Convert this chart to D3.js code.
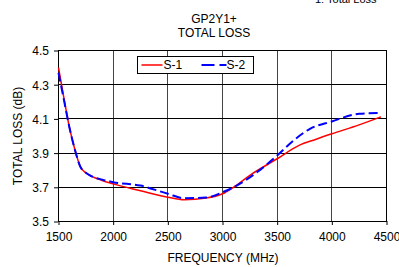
<!DOCTYPE html>
<html>
<head>
<meta charset="utf-8">
<script src="https://cdn.jsdelivr.net/npm/d3@7"></script>
<style>
  body { margin: 0; background: #fff; }
  svg { display: block; font-family: "Liberation Sans", Arial, sans-serif; }
</style>
</head>
<body>
<div id="chart"></div>
<script>
const freqS1 = [1500, 1550, 1600, 1650, 1700, 1750, 1800, 1900, 2000, 2250, 2500, 2650, 2850, 3000, 3100, 3250, 3500, 3700, 3850, 4000, 4250, 4450];
const valS1 = [4.40, 4.22, 4.05, 3.92, 3.82, 3.785, 3.765, 3.74, 3.72, 3.68, 3.642, 3.627, 3.637, 3.662, 3.70, 3.77, 3.867, 3.945, 3.98, 4.013, 4.065, 4.112];
const freqS2 = [1500, 1550, 1600, 1650, 1700, 1750, 1800, 1900, 2000, 2250, 2500, 2650, 2850, 3000, 3100, 3350, 3500, 3650, 3800, 4000, 4250, 4450];
const valS2 = [4.37, 4.21, 4.05, 3.92, 3.82, 3.785, 3.765, 3.745, 3.73, 3.71, 3.662, 3.636, 3.64, 3.671, 3.70, 3.805, 3.886, 3.974, 4.042, 4.085, 4.13, 4.135];
const xTicks = [1500, 2000, 2500, 3000, 3500, 4000, 4500];
const yTicks = [3.5, 3.7, 3.9, 4.1, 4.3, 4.5];
const seriesNames = ["S-1", "S-2"];

const W = 399, H = 267;
const margin = { top: 50, right: 13, bottom: 46, left: 58 };
const width = W - margin.left - margin.right;
const height = H - margin.top - margin.bottom;

const svg = d3.select("#chart")
    .append("svg")
    .attr("width", W)
    .attr("height", H);

// header text, cropped at the top edge as in the source picture
svg.append("text")
    .attr("x", 315)
    .attr("y", 3)
    .style("font-size", "11px")
    .text("1: Total Loss");

svg.append("text")
    .attr("x", 214)
    .attr("y", 23)
    .attr("text-anchor", "middle")
    .style("font-size", "12px")
    .text("GP2Y1+");
svg.append("text")
    .attr("x", 214)
    .attr("y", 37)
    .attr("text-anchor", "middle")
    .style("font-size", "12px")
    .text("TOTAL LOSS");

const g = svg.append("g")
    .attr("transform", `translate(${margin.left},${margin.top})`);

const x = d3.scaleLinear().domain([1500, 4500]).range([0.5, width + 0.5]);
const y = d3.scaleLinear().domain([3.5, 4.5]).range([height + 0.5, 0.5]);

// grid
g.append("g")
    .selectAll("line")
    .data(xTicks)
    .join("line")
    .attr("x1", d => Math.round(x(d) - 0.5) + 0.5)
    .attr("x2", d => Math.round(x(d) - 0.5) + 0.5)
    .attr("y1", y(4.5))
    .attr("y2", y(3.5))
    .attr("stroke", "#444");
g.append("g")
    .selectAll("line")
    .data(yTicks)
    .join("line")
    .attr("x1", x(1500))
    .attr("x2", x(4500))
    .attr("y1", d => Math.round(y(d) - 0.5) + 0.5)
    .attr("y2", d => Math.round(y(d) - 0.5) + 0.5)
    .attr("stroke", "#000");

g.append("rect")
    .attr("x", x(1500))
    .attr("y", y(4.5))
    .attr("width", x(4500) - x(1500))
    .attr("height", y(3.5) - y(4.5))
    .attr("fill", "none")
    .attr("stroke", "#000");

// axes
const xAxis = g.append("g")
    .attr("transform", `translate(0,${height})`)
    .call(d3.axisBottom(x).tickValues(xTicks).tickSize(4).tickSizeOuter(0).tickFormat(d3.format("d")));
const yAxis = g.append("g")
    .call(d3.axisLeft(y).tickValues(yTicks).tickSize(4).tickSizeOuter(0).tickFormat(d3.format(".1f")));
[xAxis, yAxis].forEach(a => {
    a.select(".domain").attr("stroke", "#000");
    a.selectAll(".tick line").attr("stroke", "#000");
    a.selectAll("text")
        .attr("fill", "#000")
        .style("font-size", "12px")
        .style("font-family", "'Liberation Sans', Arial, sans-serif");
});
xAxis.selectAll("text").attr("dy", "1.05em");
yAxis.selectAll("text").attr("x", -9).attr("dy", "0.36em");

// lines
const line = d3.line()
    .x(d => x(d[0]))
    .y(d => y(d[1]))
    .curve(d3.curveMonotoneX);

const s1 = freqS1.map((f, i) => [f, valS1[i]]);
const s2 = freqS2.map((f, i) => [f, valS2[i]]);

g.append("path")
    .datum(s1)
    .attr("d", line)
    .attr("fill", "none")
    .attr("stroke", "#ff0000")
    .attr("stroke-width", 1.5);
g.append("path")
    .datum(s2)
    .attr("d", line)
    .attr("fill", "none")
    .attr("stroke", "#0000ff")
    .attr("stroke-width", 2)
    .attr("stroke-dasharray", "9,4");

// legend
const leg = svg.append("g").attr("transform", "translate(137.5,56.5)");
leg.append("rect")
    .attr("width", 116)
    .attr("height", 17)
    .attr("fill", "#fff")
    .attr("stroke", "#000");
leg.append("line")
    .attr("x1", 4).attr("x2", 25).attr("y1", 8.5).attr("y2", 8.5)
    .attr("stroke", "#ff0000").attr("stroke-width", 1.5);
leg.append("line")
    .attr("x1", 64).attr("x2", 89).attr("y1", 8.5).attr("y2", 8.5)
    .attr("stroke", "#0000ff").attr("stroke-width", 2)
    .attr("stroke-dasharray", "13,5");
leg.selectAll("text.lab")
    .data(seriesNames)
    .join("text")
    .attr("class", "lab")
    .attr("x", (d, i) => i === 0 ? 26 : 89)
    .attr("y", 12.5)
    .style("font-size", "12px")
    .text(d => d);

// axis titles
svg.append("text")
    .attr("x", 223)
    .attr("y", 262)
    .attr("text-anchor", "middle")
    .style("font-size", "12px")
    .text("FREQUENCY (MHz)");
svg.append("text")
    .attr("transform", "translate(22,136) rotate(-90)")
    .attr("text-anchor", "middle")
    .style("font-size", "12px")
    .text("TOTAL LOSS (dB)");
</script>
</body>
</html>
